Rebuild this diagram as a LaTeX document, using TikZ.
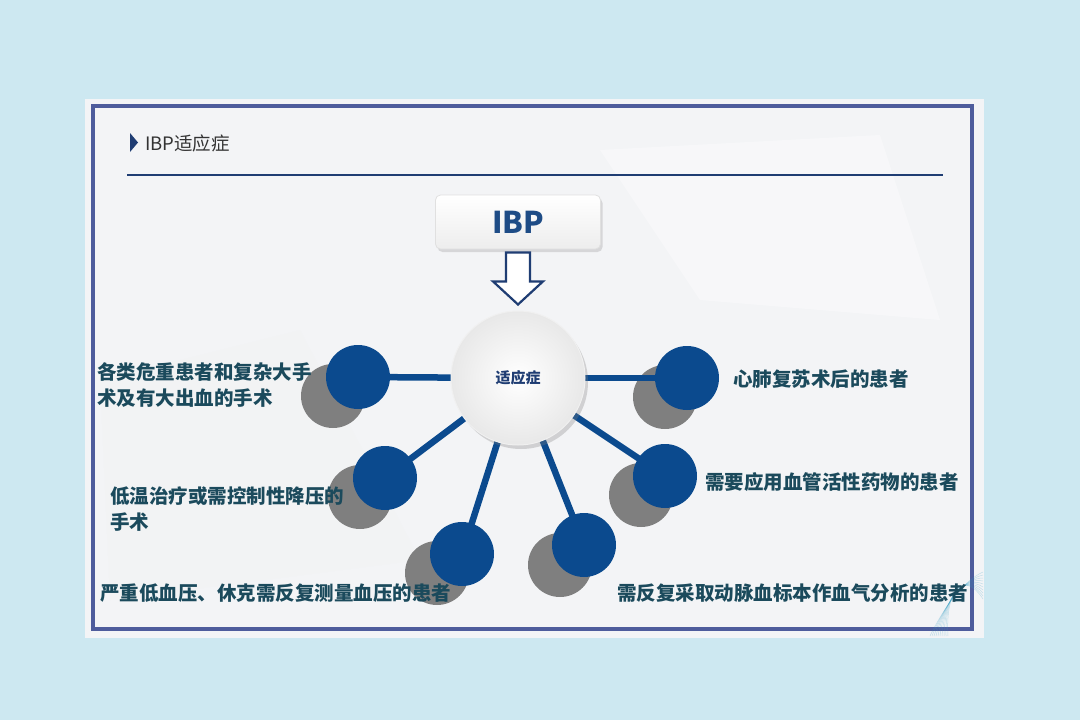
\documentclass[tikz,border=0pt]{standalone}
\usepackage{fontspec}
\newfontfamily\cjk{Noto Sans CJK SC}
\usetikzlibrary{shadows,calc}
\definecolor{bgblue}{HTML}{CDE8F1}
\definecolor{panel}{HTML}{F3F4F6}
\definecolor{frame}{HTML}{4E5C9C}
\definecolor{navy}{HTML}{1F3D73}
\definecolor{dotblue}{HTML}{0B4A8E}
\definecolor{shadowgray}{HTML}{7F7F7F}
\definecolor{txt}{HTML}{1B4A5C}
\definecolor{ibpblue}{HTML}{1E4C86}
\pgfdeclarelayer{bg}
\pgfdeclarelayer{mid}
\pgfsetlayers{bg,mid,main}
\tikzset{
  dot/.style={circle, fill=dotblue, minimum size=64pt, inner sep=0pt},
  dotshadow/.style={circle, fill=shadowgray, minimum size=64pt, inner sep=0pt},
  spoke/.style={draw=dotblue, line width=6.5pt},
  lbl/.style={anchor=west, text=txt, font=\cjk\bfseries\fontsize{19.5}{26}\selectfont, align=left, inner sep=0pt},
}
\begin{document}
\begin{tikzpicture}[x=1pt,y=-1pt]
\useasboundingbox (0,0) rectangle (1080,720);
\begin{pgfonlayer}{bg}
  \fill[bgblue] (0,0) rectangle (1080,720);
  \fill[panel] (85,99) rectangle (984,638);
  \fill[white,opacity=0.35] (600,150) -- (880,135) -- (940,320) -- (700,300) -- cycle;
  \fill[black!5,opacity=0.35] (100,380) -- (300,330) -- (420,560) -- (110,600) -- cycle;
  \draw[frame, line width=3.5pt] (93,106) rectangle (972,629);
  \foreach \k in {0,...,9} {
    \draw[frame!60!cyan, opacity=0.25, line width=0.5pt]
      (930+\k*2,636) .. controls (945,605-\k*2) and (965,580-\k) .. (983,572+\k*3);
  }
\end{pgfonlayer}

% title
\fill[navy] (130,133) -- (138,142.5) -- (130,152) -- cycle;
\node[anchor=west, inner sep=0pt, text=black!80, font=\cjk\fontsize{18.5}{22}\selectfont] (title) at (145,143) {IBP适应症};
\draw[navy, line width=2pt] (127,175) -- (943,175);

% IBP box
\node[draw=black!12, line width=0.8pt, rounded corners=5pt, minimum width=165pt, minimum height=54pt,
      top color=white, bottom color=black!7, drop shadow={opacity=0.25, shadow xshift=2pt, shadow yshift=-3pt},
      text=ibpblue, font=\cjk\bfseries\fontsize{30}{34}\selectfont] (ibp) at (518,222) {IBP};

% centre circle
\node[circle, minimum size=134pt, inner sep=0pt, draw=black!6, line width=1pt,
      inner color=white, outer color=black!9, drop shadow={opacity=0.3, shadow xshift=3pt, shadow yshift=-4pt},
      text=navy, font=\cjk\bfseries\fontsize{15}{18}\selectfont] (c) at (518,378) {适应症};

% hollow arrow
\draw[navy, fill=white, line width=2.2pt, line join=miter]
  ($(ibp.south)+(-12,3)$) -- ($(ibp.south)+(12,3)$) -- ($(ibp.south)+(12,32)$) -- ($(ibp.south)+(25,32)$)
  -- ($(c.north)+(0,-6)$) -- ($(ibp.south)+(-25,32)$) -- ($(ibp.south)+(-12,32)$) -- cycle;

% blue dots
\node[dot] (d1) at (358,377) {};
\node[dot] (d2) at (385,478) {};
\node[dot] (d3) at (462,554) {};
\node[dot] (d4) at (687,378) {};
\node[dot] (d5) at (665,476) {};
\node[dot] (d6) at (584,545) {};

\begin{pgfonlayer}{mid}
  \node[dotshadow] (s1) at (333,396) {};
  \node[dotshadow] (s2) at (360,497) {};
  \node[dotshadow] (s3) at (437,573) {};
  \node[dotshadow] (s4) at (665,397) {};
  \node[dotshadow] (s5) at (641,495) {};
  \node[dotshadow] (s6) at (560,565) {};
  \foreach \d in {d1,d2,d3,d4,d5,d6} { \draw[spoke] (c.center) -- (\d.center); }
\end{pgfonlayer}

% labels
\node[lbl] (t1) at (97,385) {各类危重患者和复杂大手\\术及有大出血的手术};
\node[lbl] (t2) at (110,509) {低温治疗或需控制性降压的\\手术};
\node[lbl] (t3) at (100,593) {严重低血压、休克需反复测量血压的患者};
\node[lbl] (t4) at (733,379) {心肺复苏术后的患者};
\node[lbl] (t5) at (705,482) {需要应用血管活性药物的患者};
\node[lbl] (t6) at (617,593) {需反复采取动脉血标本作血气分析的患者};
\end{tikzpicture}
\end{document}
